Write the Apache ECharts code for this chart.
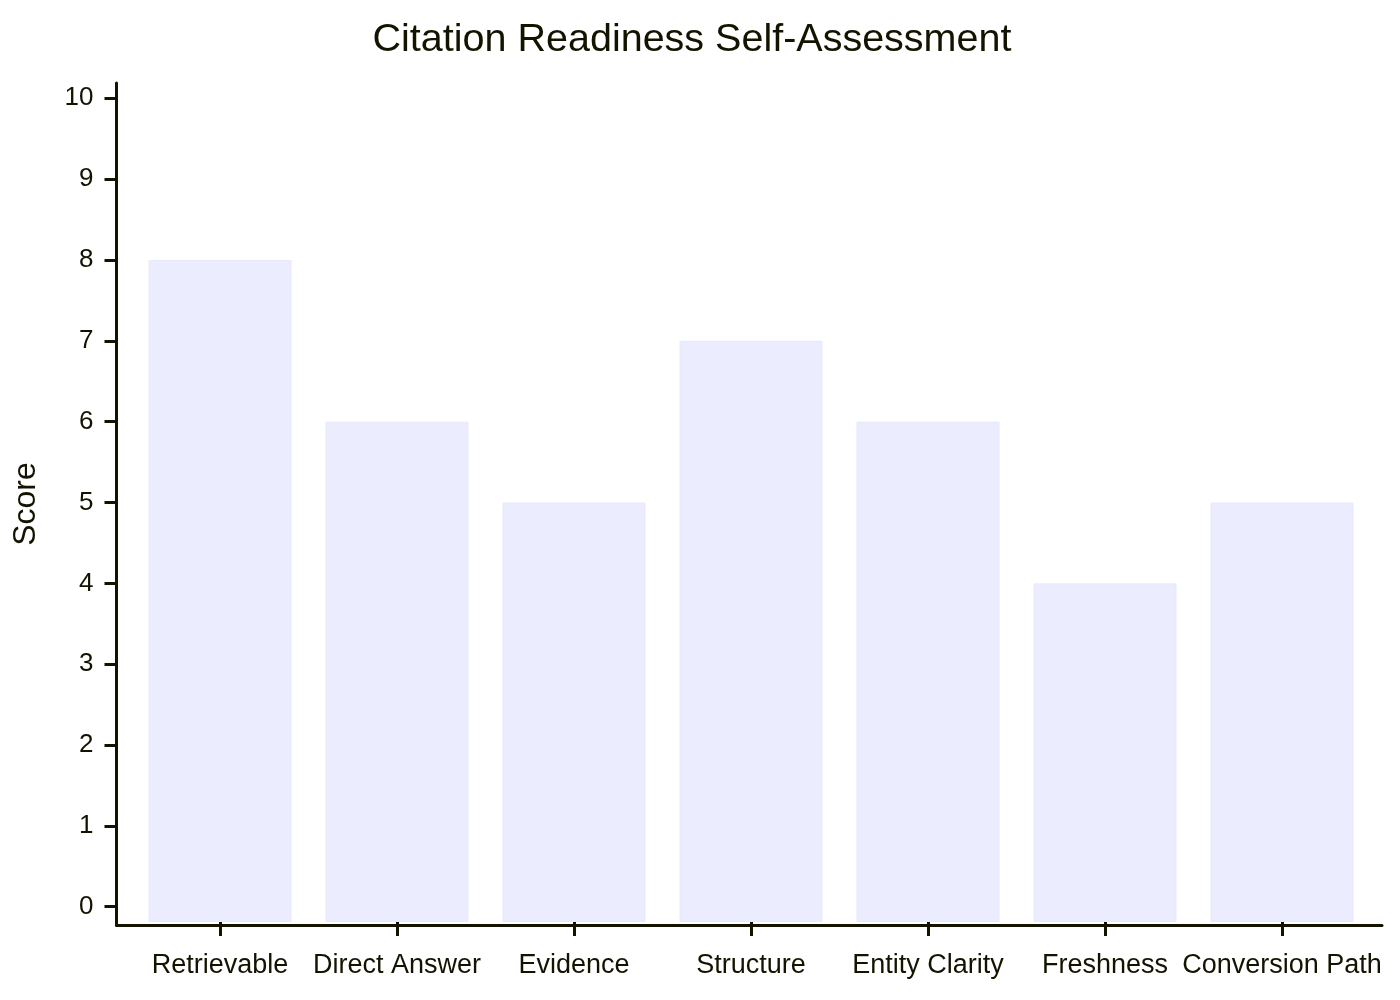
<!DOCTYPE html>
<html>
<head>
<meta charset="utf-8">
<script src="https://cdn.jsdelivr.net/npm/echarts@6/dist/echarts.min.js"></script>
<style>
  html, body { margin: 0; padding: 0; background: #ffffff; }
  #chart { width: 1400px; height: 1000px; }
</style>
</head>
<body>
<div id="chart"></div>
<script>
const chartTitle = 'Citation Readiness Self-Assessment';
const categories = ['Retrievable', 'Direct Answer', 'Evidence', 'Structure', 'Entity Clarity', 'Freshness', 'Conversion Path'];
const scores = [8, 6, 5, 7, 6, 4, 5];
const yTicks = [0, 1, 2, 3, 4, 5, 6, 7, 8, 9, 10];
const yAxisName = 'Score';

const ink = '#131300';
const font = 'Liberation Sans, Arial, sans-serif';
const frameMin = -0.226, frameMax = 10.189;
const barBase = -0.189;

const chart = echarts.init(document.getElementById('chart'), null, { renderer: 'canvas' });
chart.setOption({
  backgroundColor: '#ffffff',
  animation: false,
  title: {
    text: chartTitle,
    left: 687,
    top: 15,
    textAlign: 'center',
    textStyle: { fontFamily: font, fontSize: 39.5, fontWeight: 'normal', color: ink }
  },
  grid: [
    { left: 116.5, top: 83, width: 1265.5, height: 842, containLabel: false, outerBoundsMode: 'none' },
    { left: 131.5, top: 83, width: 1239, height: 839, containLabel: false, outerBoundsMode: 'none' }
  ],
  xAxis: [
    {
      gridIndex: 0, type: 'value', min: 0, max: 1,
      axisLine: { show: true, onZero: false, lineStyle: { color: ink, width: 3 } },
      axisTick: { show: false }, axisLabel: { show: false }, splitLine: { show: false }
    },
    {
      gridIndex: 1, type: 'category', data: categories,
      axisLine: { show: false, onZero: false },
      axisTick: { show: true, alignWithLabel: true, length: 14, lineStyle: { color: ink, width: 3 } },
      axisLabel: { show: true, margin: 30, interval: 0, fontFamily: font, fontSize: 27, color: ink },
      splitLine: { show: false }
    }
  ],
  yAxis: [
    {
      gridIndex: 0, type: 'value', min: frameMin, max: frameMax,
      name: yAxisName, nameLocation: 'middle', nameGap: 74, nameRotate: 90,
      nameTextStyle: { fontFamily: font, fontSize: 32, color: ink },
      axisLine: { show: true, onZero: false, lineStyle: { color: ink, width: 3 } },
      axisTick: { show: true, length: 12, customValues: yTicks, lineStyle: { color: ink, width: 3 } },
      axisLabel: { show: true, margin: 23, customValues: yTicks, fontFamily: font, fontSize: 26, color: ink },
      splitLine: { show: false }
    },
    {
      gridIndex: 1, type: 'value', min: barBase, max: frameMax, startValue: barBase,
      axisLine: { show: false, onZero: false }, axisTick: { show: false }, axisLabel: { show: false }, splitLine: { show: false }
    }
  ],
  series: [
    {
      type: 'bar',
      xAxisIndex: 1, yAxisIndex: 1,
      data: scores,
      barWidth: 143,
      itemStyle: { color: '#ECECFF', borderColor: '#E8E8FC', borderWidth: 1 },
      silent: true
    }
  ]
});
</script>
</body>
</html>
